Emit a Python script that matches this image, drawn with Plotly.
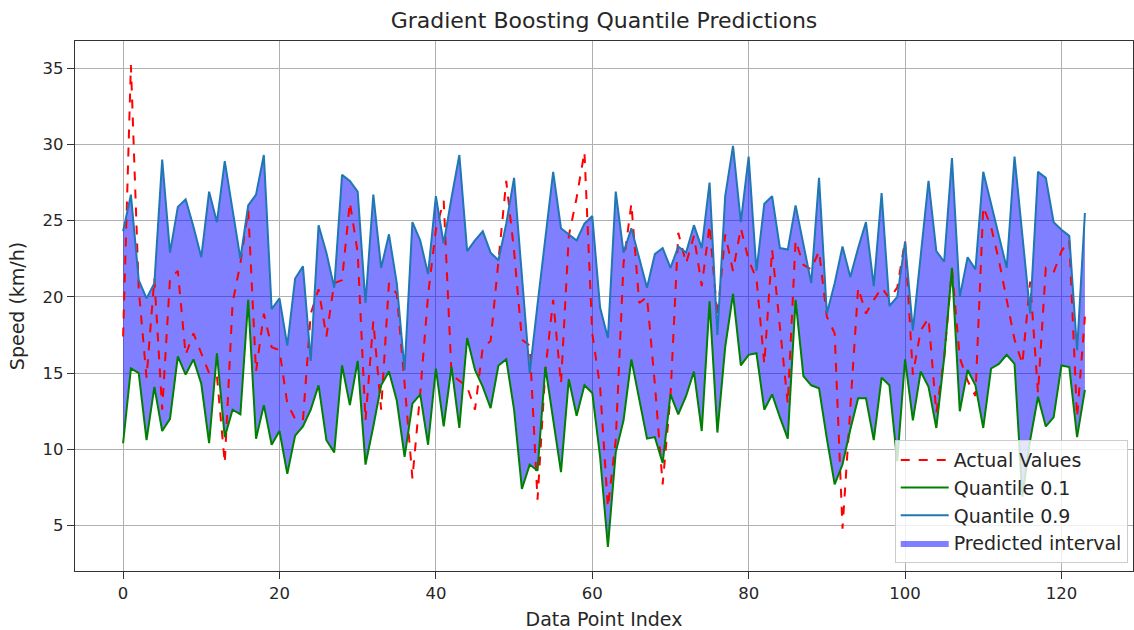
import plotly.graph_objects as go

actual = [17.4, 35.2, 20.5, 14.7, 21.2, 12.6, 21.2, 21.7, 16.2, 17.6,
          16.3, 15.0, 14.8, 9.1, 19.6, 22.2, 25.7, 15.1, 18.9, 16.7,
          16.5, 13.0, 12.0, 11.9, 18.9, 20.5, 17.4, 20.9, 21.1, 26.2,
          22.9, 11.9, 18.4, 12.6, 20.9, 20.2, 14.3, 8.1, 13.7, 20.1,
          24.4, 26.3, 14.9, 14.5, 14.1, 12.6, 16.7, 17.1, 22.2, 27.6,
          23.0, 17.2, 16.8, 6.7, 15.2, 19.8, 14.3, 24.0, 26.5, 29.5,
          17.6, 14.1, 6.2, 10.6, 22.2, 26.1, 19.6, 20.0, 14.3, 7.7,
          13.5, 24.2, 22.2, 24.0, 20.7, 24.7, 18.7, 24.1, 21.7, 24.5,
          22.4, 21.2, 15.6, 23.1, 18.0, 13.0, 23.7, 22.1, 21.8, 23.0,
          18.7, 17.6, 4.8, 12.7, 20.6, 18.9, 19.8, 20.6, 19.9, 20.6,
          23.7, 14.9, 17.8, 18.6, 12.4, 16.0, 21.8, 16.0, 14.5, 13.5,
          25.9, 24.6, 22.4, 19.8, 17.2, 15.6, 21.0, 13.7, 21.9, 21.6,
          23.0, 23.7, 12.1, 18.7]

q10 = [10.4, 15.3, 15.0, 10.6, 14.1, 11.2, 12.0, 16.1, 14.9, 15.9,
       14.3, 10.4, 16.3, 10.8, 12.6, 12.3, 19.8, 10.7, 12.9, 10.3,
       11.2, 8.4, 10.9, 11.5, 12.6, 14.2, 10.6, 9.8, 15.5, 12.9,
       15.8, 9.0, 11.5, 14.2, 15.1, 13.2, 9.5, 13.0, 13.6, 10.3,
       15.3, 11.5, 15.4, 11.4, 17.3, 15.2, 14.1, 12.7, 15.5, 15.9,
       12.6, 7.4, 9.0, 8.6, 15.4, 11.9, 8.5, 14.6, 12.2, 14.2,
       13.7, 9.5, 3.6, 9.8, 11.9, 15.9, 13.2, 10.7, 10.8, 9.1,
       13.6, 12.3, 13.5, 15.1, 11.2, 19.7, 11.1, 16.7, 20.2, 15.5,
       16.2, 16.3, 12.6, 13.6, 12.1, 10.7, 19.8, 14.8, 14.2, 14.0,
       10.7, 7.7, 9.0, 11.3, 13.35, 13.35, 10.6, 14.7, 14.2, 9.2,
       15.9, 11.9, 15.1, 14.1, 11.4, 16.0, 21.9, 12.5, 15.2, 14.2,
       11.4, 15.3, 15.6, 16.2, 15.6, 6.9, 10.6, 13.45, 11.5, 12.1,
       15.5, 15.4, 10.8, 13.9]

q90 = [24.3, 26.7, 21.1, 19.9, 20.9, 29.0, 22.9, 25.9, 26.4, 24.6,
       22.6, 26.9, 24.9, 28.9, 25.7, 22.5, 26.0, 26.7, 29.3, 19.2,
       19.9, 16.8, 21.2, 22.0, 15.8, 24.7, 22.9, 20.6, 28.0, 27.6,
       26.9, 19.6, 26.7, 21.9, 24.1, 20.9, 15.2, 24.9, 23.7, 21.5,
       26.6, 23.5, 26.5, 29.3, 23.0, 23.7, 24.3, 22.9, 22.4, 24.8,
       27.8, 21.3, 15.0, 19.5, 23.8, 28.2, 24.5, 24.1, 23.7, 24.8,
       25.3, 19.3, 17.3, 26.9, 22.9, 24.5, 22.6, 20.6, 22.8, 23.2,
       21.9, 23.3, 22.9, 24.7, 23.2, 27.5, 17.5, 26.6, 29.9, 24.9,
       29.2, 21.7, 26.1, 26.6, 23.2, 23.1, 26.0, 23.5, 20.9, 27.8,
       18.9, 20.9, 23.3, 21.3, 23.2, 24.9, 20.7, 26.8, 19.4, 20.0,
       23.6, 17.8, 22.9, 27.6, 23.0, 22.3, 29.1, 20.0, 22.6, 21.8,
       28.2, 26.1, 24.0, 21.9, 29.2, 24.0, 18.9, 28.2, 27.8, 24.9,
       24.4, 24.0, 16.5, 25.5]

idx = list(range(len(actual)))

x_ticks = [0, 20, 40, 60, 80, 100, 120]
y_ticks = [5, 10, 15, 20, 25, 30, 35]

FONT = "DejaVu Sans"
TXT = "#262626"

fig = go.Figure()

fig.add_trace(go.Scatter(x=idx, y=q10, mode="lines", line=dict(width=0, color="rgba(0,0,0,0)"),
                         showlegend=False, hoverinfo="skip"))
fig.add_trace(go.Scatter(x=idx, y=q90, mode="lines", line=dict(width=0, color="rgba(0,0,0,0)"),
                         fill="tonexty", fillcolor="rgba(0,0,255,0.5)",
                         name="Predicted interval", legendrank=4))
fig.add_trace(go.Scatter(x=idx, y=actual, mode="lines", name="Actual Values",
                         line=dict(color="#ff0000", width=2, dash="dash"), legendrank=1))
fig.add_trace(go.Scatter(x=idx, y=q10, mode="lines", name="Quantile 0.1",
                         line=dict(color="#008000", width=2), legendrank=2))
fig.add_trace(go.Scatter(x=idx, y=q90, mode="lines", name="Quantile 0.9",
                         line=dict(color="#1f77b4", width=2), legendrank=3))

fig.update_layout(
    width=1134, height=630,
    margin=dict(l=75, r=1, t=41, b=59),
    paper_bgcolor="white", plot_bgcolor="white",
    font=dict(family=FONT, size=16.5, color=TXT),
    title=dict(text="Gradient Boosting Quantile Predictions", x=0.5, xref="paper",
               xanchor="center", y=0.967, yanchor="middle",
               font=dict(family=FONT, size=22, color=TXT)),
    legend=dict(x=0.995, y=0.015, xanchor="right", yanchor="bottom",
                traceorder="normal",
                bgcolor="rgba(255,255,255,0.8)", bordercolor="#cccccc", borderwidth=1,
                font=dict(family=FONT, size=19, color=TXT),
                tracegroupgap=0, itemwidth=48),
    showlegend=True,
)

fig.update_xaxes(range=[-6.15, 129.15], tickvals=x_ticks, ticktext=[str(v) for v in x_ticks],
                 showgrid=True, gridcolor="#b0b0b0", gridwidth=1,
                 showline=True, linecolor="#333333", linewidth=1.2, mirror=True,
                 ticks="outside", ticklen=7, tickcolor="#333333", zeroline=False,
                 tickfont=dict(family=FONT, size=16.5, color=TXT),
                 title=dict(text="Data Point Index", font=dict(family=FONT, size=19, color=TXT), standoff=11))
fig.update_yaxes(range=[2.02, 36.78], tickvals=y_ticks, ticktext=[str(v) for v in y_ticks],
                 showgrid=True, gridcolor="#b0b0b0", gridwidth=1,
                 showline=True, linecolor="#333333", linewidth=1.2, mirror=True,
                 ticks="outside", ticklen=7, tickcolor="#333333", zeroline=False,
                 tickfont=dict(family=FONT, size=16.5, color=TXT),
                 title=dict(text="Speed (km/h)", font=dict(family=FONT, size=19, color=TXT), standoff=12))

fig.write_html("out.html")
